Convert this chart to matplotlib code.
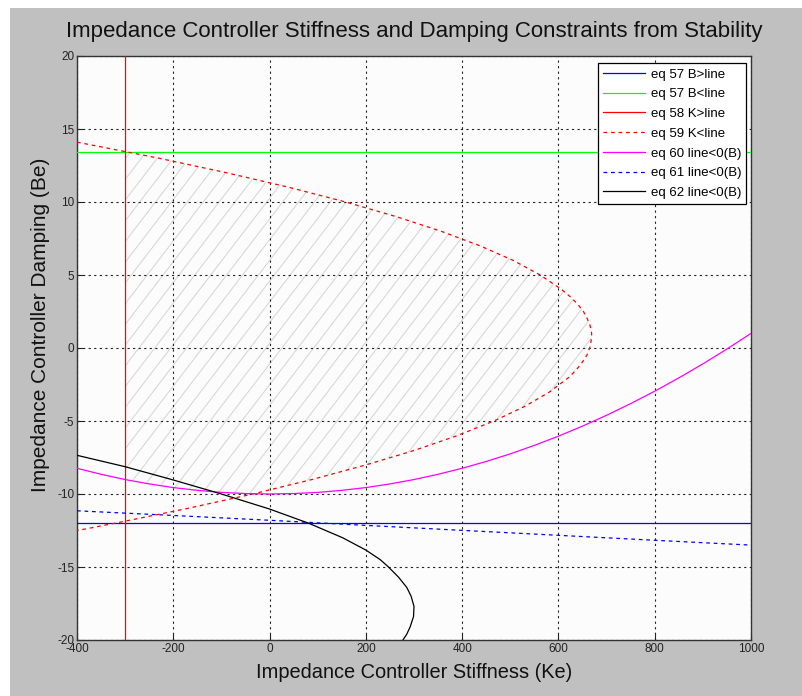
import numpy as np
import matplotlib
matplotlib.use('Agg')
import matplotlib.pyplot as plt
from matplotlib.patches import Rectangle, PathPatch

plt.rcParams['font.family'] = ['Liberation Sans', 'DejaVu Sans']
plt.rcParams['axes.unicode_minus'] = False

# eq 57 / 58 constant bounds
b_low = -12.0        # eq 57 B>line
b_high = 13.4        # eq 57 B<line
k_low = -300.0       # eq 58 K>line

# eq 59 K<line  (sideways parabola)
k59_B = [14.1, 13, 12, 11, 10, 9, 8, 7, 6, 5, 4, 3.5, 3, 2.5, 2, 1.5, 1, 0.5, 0,
         -0.5, -1, -1.5, -2, -3, -4, -5, -6, -7, -8, -9, -10, -11, -12, -12.5]
k59_K = [-400, -230, -89, 41, 158, 263, 356, 437, 506, 562, 607, 625, 640, 652, 660, 666, 669, 668, 665,
         659, 649, 637, 622, 582, 530, 466, 390, 302, 201, 89, -35, -172, -321, -399]

# eq 60 line<0(B)
k60_K = [-400, -350, -300, -250, -200, -150, -100, -50, 0, 50, 100, 150, 200, 250, 300, 350,
         400, 450, 500, 550, 600, 650, 700, 750, 800, 850, 900, 950, 1000]
k60_B = [-8.24, -8.65, -9.01, -9.31, -9.56, -9.75, -9.89, -9.97, -10.0, -9.97, -9.89, -9.75, -9.56, -9.31, -9.01, -8.65,
         -8.24, -7.77, -7.25, -6.67, -6.04, -5.35, -4.61, -3.81, -2.96, -2.05, -1.09, -0.07, 1.0]

# eq 61 line<0(B)
k61_K = [-400, -200, 0, 200, 400, 600, 800, 1000]
k61_B = [-11.15, -11.47, -11.8, -12.15, -12.49, -12.83, -13.17, -13.5]

# eq 62 line<0(B)
k62_B = [-7.35, -8.13, -9.04, -10.0, -11.03, -12.0, -13.0, -13.84, -14.5, -15.0, -15.7, -16.4,
         -17.0, -17.7, -18.4, -19.1, -19.6, -20.0]
k62_K = [-400, -300, -200, -100, 0, 81, 152, 200, 230, 247, 268, 285,
         294, 300, 299, 292, 285, 277]

xticks = [-400, -200, 0, 200, 400, 600, 800, 1000]
yticks = [-20, -15, -10, -5, 0, 5, 10, 15, 20]

fig = plt.figure(figsize=(8.02, 6.96), dpi=100)
fig.patch.set_facecolor('white')
fig.patches.append(Rectangle((10 / 802, 0), 1, 1 - 8 / 696, transform=fig.transFigure,
                             facecolor='#c0c0c0', edgecolor='none', zorder=-10))
ax = fig.add_axes([77 / 802, 56 / 696, 674 / 802, 584 / 696])
ax.set_facecolor('#fcfcfc')
ax.set_xlim(-400, 1000)
ax.set_ylim(-20, 20)

# hatched feasible region
iv = int(np.argmax(k59_K))
up_K = np.array(k59_K[:iv + 1])
up_B = np.array(k59_B[:iv + 1])
lo_K = np.array(k59_K[iv:])[::-1]
lo_B = np.array(k59_B[iv:])[::-1]
kk = np.linspace(k_low, max(k59_K), 800)
upper = np.minimum(b_high, np.interp(kk, up_K, up_B))
lower = np.maximum(np.interp(kk, k60_K, k60_B), np.interp(kk, lo_K, lo_B))
ok = upper > lower
region = ax.fill_between(kk, lower, upper, where=ok, facecolor='none', linewidth=0)
clip = PathPatch(region.get_paths()[0], transform=ax.transData, facecolor='none', edgecolor='none')
ax.add_patch(clip)
slope = 0.043   # hatch lines, steeper than 45 deg on screen
kx = np.array([-400.0, 1000.0])
for c in np.arange(-900, 700, 33):
    h, = ax.plot(kx, -10 + slope * (kx - c), color='#d6d6d6', lw=0.75, zorder=1)
    h.set_clip_path(clip)

lw = 0.9
ax.axhline(b_low, color='#0000ff', lw=lw, label='eq 57 B>line', zorder=3)
ax.axhline(b_high, color='#00ff00', lw=lw, label='eq 57 B<line', zorder=3)
ax.axvline(k_low, color='#ff0000', lw=lw, label='eq 58 K>line', zorder=3)
ax.plot(k59_K, k59_B, color='#ff0000', lw=lw, ls=(0, (3, 3)), label='eq 59 K<line', zorder=3)
ax.plot(k60_K, k60_B, color='#ff00ff', lw=lw, label='eq 60 line<0(B)', zorder=3)
ax.plot(k61_K, k61_B, color='#0000ff', lw=lw, ls=(0, (3, 3)), label='eq 61 line<0(B)', zorder=3)
ax.plot(k62_K, k62_B, color='#000000', lw=lw, label='eq 62 line<0(B)', zorder=3)

ax.set_xlim(-400, 1000)
ax.set_ylim(-20, 20)
ax.set_xticks(xticks)
ax.set_yticks(yticks)
ax.grid(True, color='#222222', ls=(0, (2, 3)), lw=0.8, zorder=2)
ax.tick_params(direction='in', length=4, labelsize=8.5, colors='#222222', pad=2)
for s in ax.spines.values():
    s.set_color('#333333')
    s.set_linewidth(1.0)

ax.set_title('Impedance Controller Stiffness and Damping Constraints from Stability',
             fontsize=16, pad=14, color='#111111')
ax.set_xlabel('Impedance Controller Stiffness (Ke)', fontsize=14.4, labelpad=6, color='#111111')
ax.set_ylabel('Impedance Controller Damping (Be)', fontsize=15, color='#111111')
ax.yaxis.set_label_coords(-0.04, 0.54)

leg = ax.legend(loc='upper right', bbox_to_anchor=(0.993, 0.988), borderaxespad=0,
                fontsize=9.5, fancybox=False, framealpha=1, edgecolor='#000000',
                handlelength=3.2, labelspacing=0.57, borderpad=0.4, handletextpad=0.4)
leg.get_frame().set_linewidth(0.9)

fig.savefig('out.png', dpi=100)
